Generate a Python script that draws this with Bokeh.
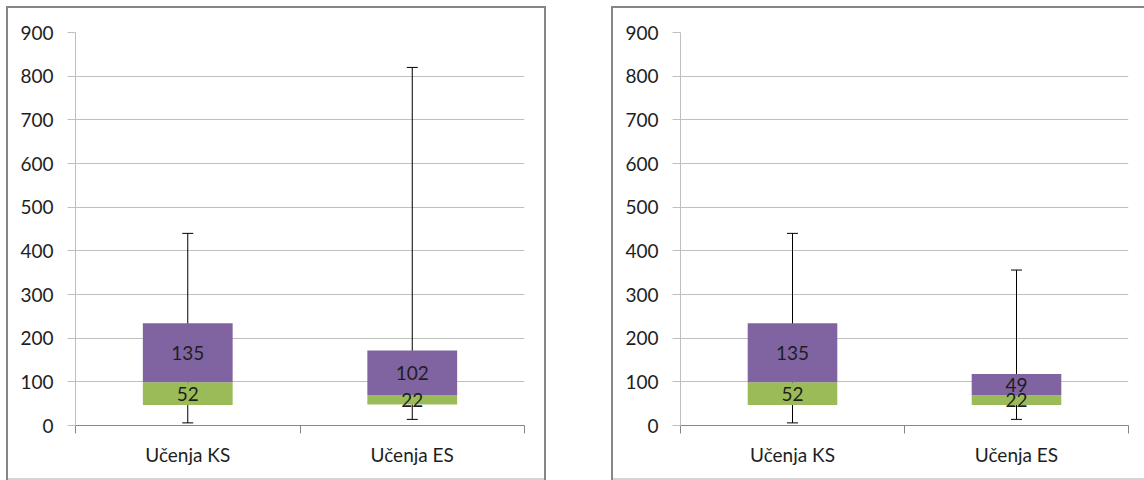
from bokeh.plotting import figure
from bokeh.layouts import row
from bokeh.models import FixedTicker, Range1d
from bokeh.core.properties import value
from bokeh.embed import file_html
from bokeh.resources import INLINE

# ---- data ----
categories = ["Učenja KS", "Učenja ES"]
y_ticks = [0, 100, 200, 300, 400, 500, 600, 700, 800, 900]

# left panel
left_q1 = [47, 48]          # first quartile (invisible base)
left_lower = [52, 22]       # median - Q1 (green)
left_upper = [135, 102]     # Q3 - median (purple)
left_min = [6, 14]
left_max = [440, 820]

# right panel
right_q1 = [47, 47]
right_lower = [52, 22]
right_upper = [135, 49]
right_min = [6, 14]
right_max = [440, 356]

GREEN = "#9BBB59"
PURPLE = "#8064A2"
FONT = "Lato"
FS = "19px"
TEXT_COLOR = "#1e1e1e"
GRID = "#bfbfbf"
AXIS = "#868686"
BORDER = "#868686"
BORDER_BOTTOM = "#d4d4d4"


def line_bg(color, x, y, w, h):
    return f"linear-gradient({color},{color}) {x}px {y}px / {w}px {h}px no-repeat"


def make_panel(q1, lower, upper, wmin, wmax, width, mbl, mbr, bg_layers):
    n = len(categories)
    xs = [i + 0.5 for i in range(n)]
    med = [a + b for a, b in zip(q1, lower)]
    q3 = [m + u for m, u in zip(med, upper)]

    p = figure(width=width, height=480, x_range=Range1d(0, n),
               y_range=Range1d(0, 900), output_backend="svg",
               toolbar_location=None, min_border_left=mbl,
               min_border_right=mbr, min_border_top=32,
               min_border_bottom=55)
    p.outline_line_color = None
    p.background_fill_color = None
    p.border_fill_color = None
    p.styles = {"background": ", ".join(bg_layers)}

    # whiskers (behind boxes)
    p.segment(x0=xs, y0=wmin, x1=xs, y1=wmax, line_color="black", line_width=1)
    p.dash(x=xs, y=wmin, size=11, line_color="black", line_width=1)
    p.dash(x=xs, y=wmax, size=11, line_color="black", line_width=1)

    # stacked box segments
    p.vbar(x=xs, bottom=q1, top=med, width=0.4, fill_color=GREEN, line_color=None)
    p.vbar(x=xs, bottom=med, top=q3, width=0.4, fill_color=PURPLE, line_color=None)

    # labels
    p.text(x=xs, y=[a + b / 2 for a, b in zip(q1, lower)],
           text=[str(v) for v in lower], text_align="center",
           text_baseline="middle", text_font=value(FONT),
           text_font_size=FS, text_color=TEXT_COLOR)
    p.text(x=xs, y=[m + u / 2 for m, u in zip(med, upper)],
           text=[str(v) for v in upper], text_align="center",
           text_baseline="middle", text_font=value(FONT),
           text_font_size=FS, text_color=TEXT_COLOR)

    # x axis: labels at category centres, ticks at boundaries
    xa = p.xaxis[0]
    xa.ticker = FixedTicker(ticks=xs, minor_ticks=[float(i) for i in range(n + 1)])
    xa.major_label_overrides = {x: c for x, c in zip(xs, categories)}
    xa.major_tick_line_color = None
    xa.major_tick_out = 0
    xa.major_tick_in = 0
    xa.minor_tick_out = 8
    xa.minor_tick_in = 0
    xa.minor_tick_line_color = AXIS
    xa.axis_line_color = AXIS
    xa.major_label_text_font = FONT
    xa.major_label_text_font_size = FS
    xa.major_label_text_color = TEXT_COLOR
    xa.major_label_standoff = 9

    ya = p.yaxis[0]
    ya.ticker = FixedTicker(ticks=y_ticks)
    ya.major_tick_out = 8
    ya.major_tick_in = 0
    ya.major_tick_line_color = GRID
    ya.minor_tick_line_color = None
    ya.axis_line_color = GRID
    ya.major_label_text_font = FONT
    ya.major_label_text_font_size = FS
    ya.major_label_text_color = TEXT_COLOR
    ya.major_label_standoff = 14

    p.xgrid.grid_line_color = None
    p.ygrid.grid_line_color = GRID
    p.ygrid.ticker = FixedTicker(ticks=y_ticks)
    return p


left_bg = [
    line_bg(BORDER, 6, 6, 2, 474),
    line_bg(BORDER, 6, 6, 540, 2),
    line_bg(BORDER, 544, 6, 2, 474),
    line_bg(BORDER_BOTTOM, 8, 478, 536, 2),
    "white",
]
right_bg = [
    line_bg(BORDER, 31, 6, 2, 474),
    line_bg(BORDER, 31, 6, 540, 2),
    line_bg(BORDER_BOTTOM, 33, 478, 540, 2),
    "white",
]

p1 = make_panel(left_q1, left_lower, left_upper, left_min, left_max,
                580, 75, 56, left_bg)
p2 = make_panel(right_q1, right_lower, right_upper, right_min, right_max,
                564, 100, 16, right_bg)

layout = row(p1, p2)
open("out.html", "w").write(file_html(layout, INLINE))
